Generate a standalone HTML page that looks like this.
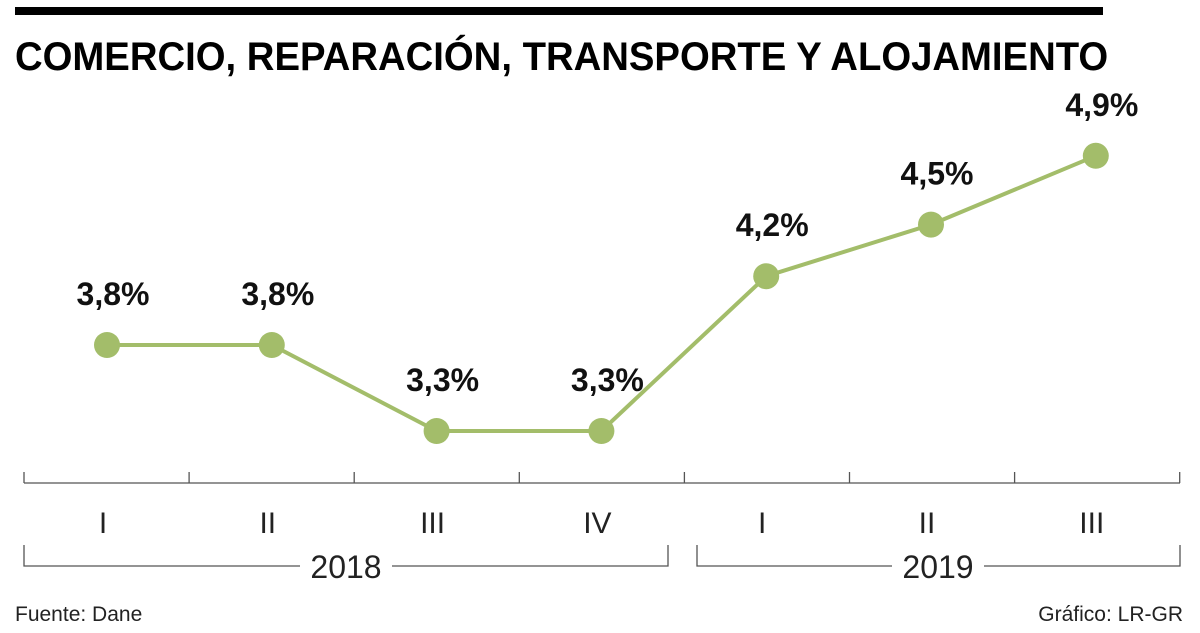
<!DOCTYPE html>
<html><head><meta charset="utf-8">
<style>
html,body{margin:0;padding:0;background:#fff;}
body{width:1200px;height:633px;position:relative;overflow:hidden;font-family:"Liberation Sans",sans-serif;}
#topbar{position:absolute;left:15px;top:7px;width:1088px;height:8px;background:#000;}
#title{position:absolute;left:15px;top:35px;font-weight:bold;font-size:40px;white-space:nowrap;transform-origin:left top;transform:scaleX(0.957);color:#000;}
.foot{position:absolute;top:603px;font-size:21px;color:#222;}
</style></head><body>
<div id="topbar"></div>
<div id="title">COMERCIO, REPARACIÓN, TRANSPORTE Y ALOJAMIENTO</div>
<svg id="chart" width="1200" height="633" style="position:absolute;left:0;top:0"></svg>
<div class="foot" style="left:15px">Fuente: Dane</div>
<div class="foot" style="right:17px">Gráfico: LR-GR</div>
<script>
const categories=["I","II","III","IV","I","II","III"];
const values=[3.8,3.8,3.3,3.3,4.2,4.5,4.9];
const valueLabels=["3,8%","3,8%","3,3%","3,3%","4,2%","4,5%","4,9%"];
const years=["2018","2019"];
const NS="http://www.w3.org/2000/svg";
const svg=document.getElementById('chart');
function x(i){return 107+i*164.8;}
function y(v){return 345-(v-3.8)*172;}
function mk(t,a){const e=document.createElementNS(NS,t);for(const k in a)e.setAttribute(k,a[k]);svg.appendChild(e);return e;}
let ax=mk('line',{x1:24,y1:483,x2:1180,y2:483,stroke:'#555','stroke-width':1.3});


for(let i=0;i<=categories.length;i++){
 const tx=24+i*165.1;
 const t=mk('line',{x1:tx,y1:472,x2:tx,y2:483,stroke:'#555','stroke-width':1.3});
 
 
}
categories.forEach((c,i)=>{
 const t=mk('text',{x:x(i)-4,y:533,'text-anchor':'middle','font-size':30,fill:'#222','font-family':'Liberation Sans, sans-serif'});
 t.textContent=c;
 
 
});
const br=[[24,668,346],[697,1180,938]];
years.forEach((yr,k)=>{
 const [a,b,c]=br[k];
 const p=mk('path',{d:`M${a} 545 V566 H${c-46} M${c+46} 566 H${b} V545`,fill:'none',stroke:'#555','stroke-width':1.3});
 
 
 const t=mk('text',{x:c,y:578,'text-anchor':'middle','font-size':32,fill:'#222','font-family':'Liberation Sans, sans-serif'});
 t.textContent=yr;
 
 
});
const pl=mk('polyline',{points:values.map((v,i)=>x(i)+','+y(v)).join(' '),fill:'none',stroke:'#a3bd6a','stroke-width':4});


values.forEach((v,i)=>{
 const c=mk('circle',{cx:x(i),cy:y(v),r:13,fill:'#a3bd6a'});
 
 
 const t=mk('text',{x:x(i)+6,y:y(v)-40,'text-anchor':'middle','font-size':32,'font-weight':'bold',fill:'#111','font-family':'Liberation Sans, sans-serif'});
 t.textContent=valueLabels[i];
 
 
});
</script>
</body></html>
